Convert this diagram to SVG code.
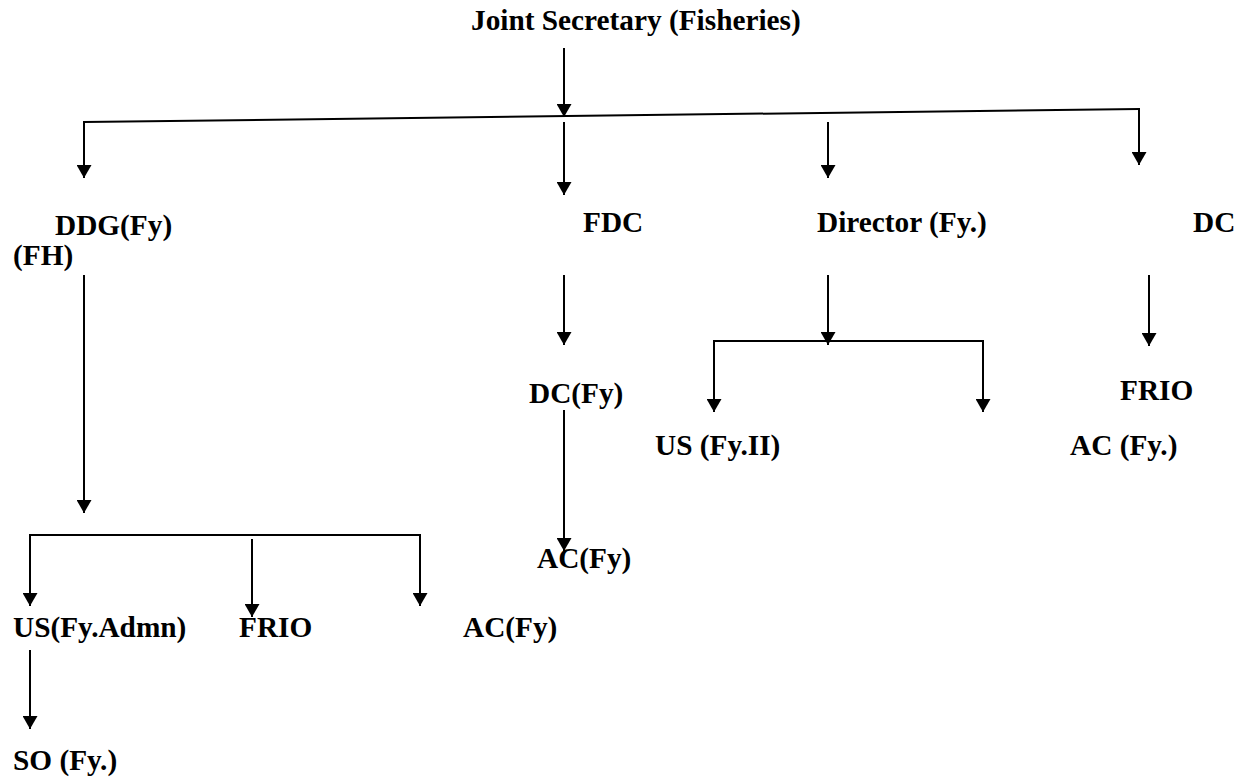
<svg xmlns="http://www.w3.org/2000/svg" width="1249" height="783" viewBox="0 0 1249 783">
<style>
text{font-family:"Liberation Serif","Times New Roman",serif;font-weight:bold;font-size:29.3px;fill:#000}
.c line,.c polyline{stroke:#000;stroke-width:2;fill:none}
.a{marker-end:url(#ah)}
</style>
<defs>
<marker id="ah" markerUnits="userSpaceOnUse" markerWidth="15" markerHeight="15" refX="13" refY="7.5" orient="auto">
<path d="M0,0 L13,7.5 L0,15 z" fill="#000"/>
</marker>
</defs>
<rect width="1249" height="783" fill="#fff"/>
<g class="c" id="connectors">
<line class="a" x1="564" y1="48" x2="564" y2="117"/>
<line x1="84" y1="122" x2="1139" y2="109"/>
<line class="a" x1="84" y1="121" x2="84" y2="178"/>
<line class="a" x1="564" y1="122" x2="564" y2="195"/>
<line class="a" x1="828" y1="122" x2="828" y2="178"/>
<line class="a" x1="1139" y1="108" x2="1139" y2="165"/>
<line class="a" x1="84" y1="275" x2="84" y2="513"/>
<polyline points="30,606 30,535 420,535 420,606"/>
<line class="a" x1="30" y1="540" x2="30" y2="606"/>
<line class="a" x1="420" y1="540" x2="420" y2="606"/>
<line class="a" x1="252" y1="539" x2="252" y2="617"/>
<line class="a" x1="30" y1="650" x2="30" y2="729"/>
<line class="a" x1="564" y1="275" x2="564" y2="345"/>
<line class="a" x1="564" y1="410" x2="564" y2="551"/>
<line class="a" x1="828" y1="275" x2="828" y2="345"/>
<polyline points="714,412 714,341 983,341 983,412"/>
<line class="a" x1="714" y1="345" x2="714" y2="412"/>
<line class="a" x1="983" y1="345" x2="983" y2="412"/>
<line class="a" x1="1149" y1="275" x2="1149" y2="346"/>
</g>
<g id="js"><text x="471" y="30">Joint Secretary (Fisheries)</text></g>
<g id="ddg"><text x="55" y="235">DDG(Fy)</text><text x="13" y="265">(FH)</text></g>
<g id="fdc"><text x="583" y="232">FDC</text></g>
<g id="director"><text x="817" y="232">Director (Fy.)</text></g>
<g id="dc"><text x="1193" y="232">DC</text></g>
<g id="dcfy"><text x="529" y="403">DC(Fy)</text></g>
<g id="frio1"><text x="1120" y="400">FRIO</text></g>
<g id="usfy2"><text x="655" y="455">US (Fy.II)</text></g>
<g id="acfy1"><text x="1070" y="455">AC (Fy.)</text></g>
<g id="acfy2"><text x="537" y="568">AC(Fy)</text></g>
<g id="usadmn"><text x="13" y="637">US(Fy.Admn)</text></g>
<g id="frio2"><text x="239" y="637">FRIO</text></g>
<g id="acfy3"><text x="463" y="637">AC(Fy)</text></g>
<g id="so"><text x="13" y="770">SO (Fy.)</text></g>
</svg>
